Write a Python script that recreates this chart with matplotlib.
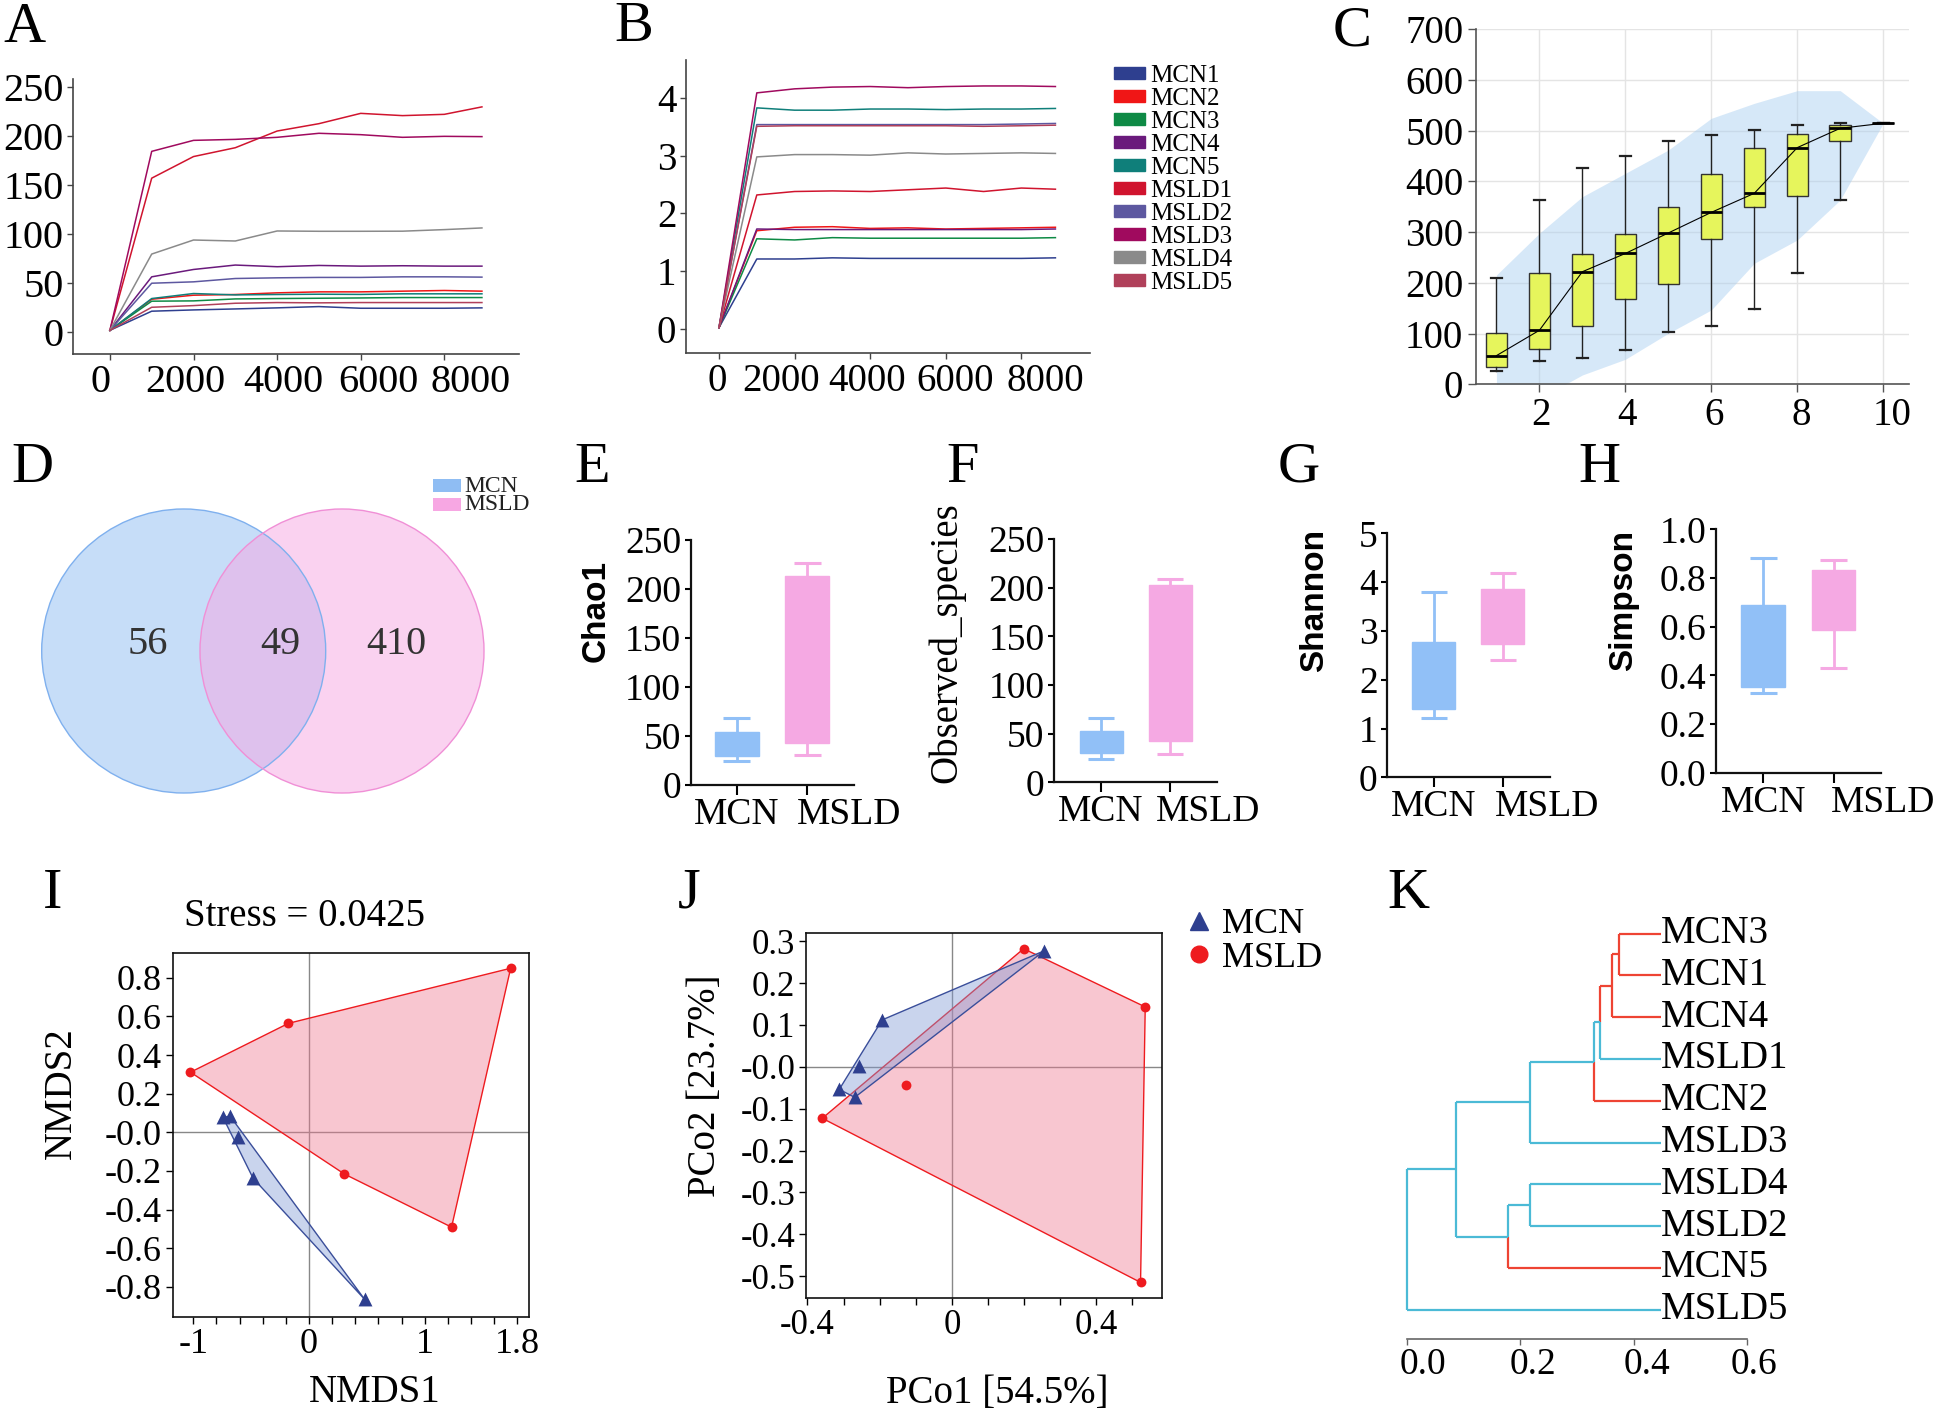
import numpy as np
import matplotlib
matplotlib.use('Agg')
import matplotlib.pyplot as plt
from matplotlib.patches import Circle, Rectangle, Polygon, Patch
from matplotlib.lines import Line2D
import matplotlib.transforms as mtransforms

plt.rcParams['font.family'] = ['Liberation Serif', 'DejaVu Serif']
plt.rcParams['axes.unicode_minus'] = False

W, H = 1944, 1414
fig = plt.figure(figsize=(W / 100, H / 100), dpi=100)


def add_ax(l, t, r, b):
    return fig.add_axes([l / W, 1 - b / H, (r - l) / W, (b - t) / H])


def shift_labels(labels, shifts_px):
    for lab, s in zip(labels, shifts_px):
        off = mtransforms.ScaledTranslation(s / 100, 0, fig.dpi_scale_trans)
        lab.set_transform(lab.get_transform() + off)


# ---------------- data ----------------
samples = ['MCN1', 'MCN2', 'MCN3', 'MCN4', 'MCN5', 'MSLD1', 'MSLD2', 'MSLD3', 'MSLD4', 'MSLD5']
sample_colors = ['#2E3F8F', '#F01616', '#0E8A45', '#6A1A7C', '#0F7F7A',
                 '#D0142E', '#5D58A0', '#A00A5E', '#8A8A8A', '#B0405A']
depth = [0, 1000, 2000, 3000, 4000, 5000, 6000, 7000, 8000, 8900]

# A: rarefaction (observed richness)
rich_MCN1 = [2, 21.5, 22.8, 23.8, 24.9, 26.2, 24.5, 24.5, 24.5, 24.9]
rich_MCN2 = [2, 33.7, 37.8, 38.5, 40.2, 41.2, 41.2, 41.9, 42.6, 41.9]
rich_MCN3 = [2, 31.7, 32.0, 34.0, 34.4, 34.7, 35.0, 35.4, 35.4, 35.4]
rich_MCN4 = [2, 56.5, 64.0, 68.5, 66.8, 68.1, 67.4, 67.8, 67.4, 67.4]
rich_MCN5 = [2, 34.4, 39.5, 38.1, 38.5, 38.8, 38.6, 39.2, 39.2, 39.2]
rich_MSLD1 = [2, 157, 179, 188, 205, 212.5, 223, 220.7, 222, 229.6]
rich_MSLD2 = [2, 50.0, 51.4, 54.8, 55.5, 55.9, 55.9, 56.5, 56.5, 56.2]
rich_MSLD3 = [2, 184.3, 195.5, 196.5, 198.6, 202.7, 201.3, 198.6, 199.6, 199.3]
rich_MSLD4 = [2, 79.7, 94.0, 93.0, 103.2, 102.9, 102.9, 103.0, 104.6, 106.3]
rich_MSLD5 = [2, 25.5, 27.2, 29.6, 30.3, 30.0, 30.3, 30.3, 30.3, 30.3]
richness = [rich_MCN1, rich_MCN2, rich_MCN3, rich_MCN4, rich_MCN5,
            rich_MSLD1, rich_MSLD2, rich_MSLD3, rich_MSLD4, rich_MSLD5]

# B: Shannon rarefaction
shan_MCN1 = [0.02, 1.21, 1.21, 1.23, 1.22, 1.22, 1.22, 1.22, 1.22, 1.23]
shan_MCN2 = [0.02, 1.70, 1.76, 1.77, 1.74, 1.75, 1.73, 1.74, 1.75, 1.76]
shan_MCN3 = [0.02, 1.56, 1.54, 1.58, 1.57, 1.57, 1.57, 1.57, 1.57, 1.58]
shan_MCN4 = [0.02, 1.73, 1.72, 1.72, 1.72, 1.72, 1.72, 1.72, 1.72, 1.73]
shan_MCN5 = [0.02, 3.83, 3.79, 3.79, 3.81, 3.81, 3.80, 3.81, 3.81, 3.82]
shan_MSLD1 = [0.02, 2.32, 2.38, 2.39, 2.38, 2.41, 2.44, 2.38, 2.44, 2.42]
shan_MSLD2 = [0.02, 3.54, 3.54, 3.54, 3.54, 3.54, 3.54, 3.54, 3.55, 3.56]
shan_MSLD3 = [0.02, 4.09, 4.16, 4.19, 4.20, 4.18, 4.20, 4.21, 4.21, 4.20]
shan_MSLD4 = [0.02, 2.98, 3.02, 3.02, 3.01, 3.05, 3.03, 3.04, 3.05, 3.04]
shan_MSLD5 = [0.02, 3.51, 3.52, 3.52, 3.52, 3.52, 3.52, 3.51, 3.52, 3.53]
shannon_curves = [shan_MCN1, shan_MCN2, shan_MCN3, shan_MCN4, shan_MCN5,
                  shan_MSLD1, shan_MSLD2, shan_MSLD3, shan_MSLD4, shan_MSLD5]

# C: species accumulation boxplot
c_x = [1, 2, 3, 4, 5, 6, 7, 8, 9, 10]
c_whislo = [27, 45, 52.6, 68.4, 102.5, 115, 148.5, 219, 362.8, 514.7]
c_q1 = [33.5, 70, 115.7, 167.6, 197, 286, 349, 371.4, 479, 514.7]
c_med = [56.5, 106.5, 222, 258, 298.4, 339, 376.6, 466.7, 504.8, 514.7]
c_q3 = [102, 219, 257, 297, 349, 415.4, 465.4, 493, 511.4, 514.7]
c_whishi = [209, 363, 426.6, 449.6, 480.5, 492.3, 501, 512, 514.7, 514.7]
env_upper = [215.6, 297.8, 370, 416, 462, 524.5, 554, 579, 579, 514.7]
env_lower = [-60, -28, 18.4, 49.3, 100.6, 146.6, 238.6, 284.6, 363.5, 514.7]

# D: Venn
venn_groups = ['MCN', 'MSLD']
venn_counts = [56, 49, 410]

# E-H: alpha diversity boxes  [whislo, q1, q3, whishi]
groups = ['MCN', 'MSLD']
chao1_MCN = [24.5, 30, 54.4, 68]
chao1_MSLD = [30.6, 43.2, 213, 227]
obs_MCN = [24, 29.8, 53, 66.4]
obs_MSLD = [29.5, 42.8, 203, 209]
shannon_MCN = [1.22, 1.40, 2.77, 3.80]
shannon_MSLD = [2.40, 2.73, 3.85, 4.19]
simpson_MCN = [0.329, 0.352, 0.69, 0.884]
simpson_MSLD = [0.432, 0.585, 0.834, 0.875]

# I: NMDS
nmds_MCN_x = [-0.743, -0.682, -0.615, -0.483, 0.480]
nmds_MCN_y = [0.077, 0.084, -0.026, -0.238, -0.864]
nmds_MSLD_x = [-1.024, -0.177, 1.743, 1.232, 0.306]
nmds_MSLD_y = [0.311, 0.564, 0.849, -0.491, -0.216]

# J: PCoA
pcoa_MCN_x = [0.256, -0.193, -0.257, -0.312, -0.269]
pcoa_MCN_y = [0.277, 0.112, 0.002, -0.054, -0.073]
pcoa_MSLD_x = [0.199, 0.536, 0.523, -0.359, -0.126]
pcoa_MSLD_y = [0.282, 0.143, -0.515, -0.123, -0.043]

# K: dendrogram
leaf_order = ['MCN3', 'MCN1', 'MCN4', 'MSLD1', 'MCN2', 'MSLD3', 'MSLD4', 'MSLD2', 'MCN5', 'MSLD5']
leaf_x = 0.448
# (child a, child b, position)
tree_nodes = [
    ('MCN3', 'MCN1', 0.375),
    ('n0', 'MCN4', 0.362),
    ('n1', 'MSLD1', 0.341),
    ('n2', 'MCN2', 0.330),
    ('n3', 'MSLD3', 0.217),
    ('MSLD4', 'MSLD2', 0.217),
    ('n5', 'MCN5', 0.178),
    ('n4', 'n6', 0.086),
    ('n7', 'MSLD5', 0.0),
]

BLUE_BOX = '#91C0F7'
PINK_BOX = '#F5A9E3'
RED = '#EE1B1F'
NAVY = '#2E3F8F'


def style_open(ax, lw=1.2, color='#444444'):
    for s in ['top', 'right']:
        ax.spines[s].set_visible(False)
    for s in ['left', 'bottom']:
        ax.spines[s].set_linewidth(lw)
        ax.spines[s].set_color(color)
    ax.tick_params(direction='out', length=4, width=1, color=color)


# ---------------- A ----------------
axA = add_ax(73.2, 79, 518.8, 354.3)
for ys, col in zip(richness, sample_colors):
    axA.plot(depth, ys, color=col, lw=1.1)
axA.set_xlim(-878, 9782)
axA.set_ylim(-22.4, 258)
axA.set_xticks([0, 2000, 4000, 6000, 8000])
axA.set_yticks([0, 50, 100, 150, 200, 250])
style_open(axA)
axA.tick_params(labelsize=29, pad=3)
shift_labels(axA.get_xticklabels(), [-9, -8, 6, 18, 26])

# ---------------- B ----------------
axB = add_ax(686, 60, 1090, 353)
for ys, col in zip(shannon_curves, sample_colors):
    axB.plot(depth, ys, color=col, lw=1.1)
axB.set_xlim(-873, 9815)
axB.set_ylim(-0.42, 4.66)
axB.set_xticks([0, 2000, 4000, 6000, 8000])
axB.set_yticks([0, 1, 2, 3, 4])
style_open(axB)
axB.tick_params(labelsize=28, pad=3)
shift_labels(axB.get_xticklabels(), [-2, -14, -3, 9, 24])
handles = [Patch(facecolor=c, edgecolor=c) for c in sample_colors]
fig.legend(handles, samples, loc='upper left', bbox_to_anchor=(1114 / W, 1 - 65 / H),
           frameon=False, fontsize=18, handlelength=1.25, handleheight=0.4,
           handletextpad=0.2, labelspacing=0.04, borderpad=0, borderaxespad=0)

# ---------------- C ----------------
axC = add_ax(1475.8, 29.3, 1909, 384.3)
axC.set_xlim(0.52, 10.6)
axC.set_ylim(0, 700)
axC.set_xticks([2, 4, 6, 8, 10])
axC.set_yticks(range(0, 701, 100))
axC.grid(True, color='#E4E4E4', lw=1.0, zorder=0)
axC.set_axisbelow(True)
axC.fill_between(c_x, env_lower, env_upper, color='#A6CDF0', alpha=0.45, lw=0, zorder=1)
stats = [dict(whislo=a, q1=b, med=c, q3=d, whishi=e)
         for a, b, c, d, e in zip(c_whislo, c_q1, c_med, c_q3, c_whishi)]
axC.bxp(stats, positions=c_x, widths=0.5, capwidths=0.25, showfliers=False,
        patch_artist=True, manage_ticks=False,
        boxprops=dict(facecolor='#E6F55C', edgecolor='#333333', lw=1.0),
        medianprops=dict(color='black', lw=2.0),
        whiskerprops=dict(color='#222222', lw=1.0),
        capprops=dict(color='#222222', lw=1.6), zorder=3)
axC.plot(c_x, c_med, color='black', lw=0.8, zorder=4)
style_open(axC, color='#555555')
axC.tick_params(labelsize=28, length=6, pad=3)
shift_labels(axC.get_xticklabels(), [2, 2, 3, 4, 9])

# ---------------- D (Venn) ----------------
axD = add_ax(0, 470, 540, 820)
axD.set_xlim(0, 540)
axD.set_ylim(820, 470)
axD.axis('off')
venn_fc = ['#8FBDF3', '#F7A7E3']
venn_ec = ['#7FB0EE', '#F08FD6']
centers = [(183.7, 651), (342, 651)]
for (cx, cy), fc in zip(centers, venn_fc):
    axD.add_patch(Circle((cx, cy), 142, facecolor=fc, alpha=0.5, edgecolor='none'))
for (cx, cy), ec in zip(centers, venn_ec):
    axD.add_patch(Circle((cx, cy), 142, facecolor='none', edgecolor=ec, lw=1.0))
for xpos, n in zip([148.2, 279.9, 396.8], venn_counts):
    axD.text(xpos, 645, str(n), fontsize=29, ha='center', va='center', color='#333333')
for i, (g, fc) in enumerate(zip(venn_groups, venn_fc)):
    y0 = 479 + i * 19
    axD.add_patch(Rectangle((433, y0), 27.5, 12.7, facecolor=fc, edgecolor='none', clip_on=False))
    axD.text(464, y0 + 7, g, fontsize=17, ha='left', va='center', color='#222222')


# ---------------- E-H ----------------
def alpha_box(box, l, t, r, b, xlim, ylim, yticks, ylabel, lab_px, ytick_fmt=None, shift=40,
              ylab_font=None):
    ax = add_ax(l, t, r, b)
    cols = [BLUE_BOX, PINK_BOX]
    for xpos, st, col in zip([1, 2], box, cols):
        whislo, q1, q3, whishi = st
        ax.bar(xpos, q3 - q1, bottom=q1, width=0.625, color=col, edgecolor=col, lw=1, zorder=2)
        ax.vlines(xpos, q3, whishi, color=col, lw=2, zorder=1)
        ax.vlines(xpos, whislo, q1, color=col, lw=2, zorder=1)
        ax.hlines([whislo, whishi], xpos - 0.19, xpos + 0.19, color=col, lw=2.2, zorder=1)
    ax.set_xlim(*xlim)
    ax.set_ylim(*ylim)
    ax.set_yticks(yticks)
    if ytick_fmt:
        ax.set_yticklabels([ytick_fmt % v for v in yticks])
    ax.set_xticks([1, 2])
    ax.set_xticklabels(groups)
    for s in ['top', 'right']:
        ax.spines[s].set_visible(False)
    for s in ['left', 'bottom']:
        ax.spines[s].set_linewidth(1.6)
        ax.spines[s].set_color('#111111')
    ax.tick_params(axis='y', direction='out', length=4, width=1.5, labelsize=27, pad=3)
    ax.tick_params(axis='x', direction='out', length=7, width=1.5, labelsize=27, pad=2)
    shift_labels(ax.get_xticklabels(), [0, shift])
    if ylab_font is None:
        ax.set_ylabel(ylabel, fontsize=24, family='Liberation Sans', fontweight='bold')
    else:
        ax.set_ylabel(ylabel, fontsize=ylab_font)
    ax.yaxis.label.set_va('center')
    ax.yaxis.set_label_coords((lab_px[0] - l) / (r - l), (b - lab_px[1]) / (b - t))
    return ax


alpha_box((chao1_MCN, chao1_MSLD), 690.8, 540, 854.3, 785, (0.348, 2.67), (0, 250),
          [0, 50, 100, 150, 200, 250], 'Chao1', (596, 611), shift=42)
alpha_box((obs_MCN, obs_MSLD), 1054.1, 539, 1217.3, 782.3, (0.32, 2.68), (0, 250),
          [0, 50, 100, 150, 200, 250], 'Observed_species', (947, 643), shift=38, ylab_font=28)
alpha_box((shannon_MCN, shannon_MSLD), 1387.4, 533.3, 1549.9, 777.3, (0.33, 2.68), (0, 5),
          [0, 1, 2, 3, 4, 5], 'Shannon', (1315, 600), shift=44)
alpha_box((simpson_MCN, simpson_MSLD), 1716.2, 529.3, 1880.6, 772.7, (0.33, 2.67), (0, 1.0),
          [0, 0.2, 0.4, 0.6, 0.8, 1.0], 'Simpson', (1624, 600), ytick_fmt='%.1f', shift=50)


# ---------------- hull helper ----------------
def convex_hull(xs, ys):
    pts = sorted(set(zip(xs, ys)))

    def cross(o, a, b):
        return (a[0] - o[0]) * (b[1] - o[1]) - (a[1] - o[1]) * (b[0] - o[0])
    lower, upper = [], []
    for p in pts:
        while len(lower) >= 2 and cross(lower[-2], lower[-1], p) <= 0:
            lower.pop()
        lower.append(p)
    for p in reversed(pts):
        while len(upper) >= 2 and cross(upper[-2], upper[-1], p) <= 0:
            upper.pop()
        upper.append(p)
    return lower[:-1] + upper[:-1]


def ordination(ax, mx, my, sx, sy):
    ax.axhline(0, color='#888888', lw=1.0, zorder=0)
    ax.axvline(0, color='#888888', lw=1.0, zorder=0)
    ax.add_patch(Polygon(convex_hull(sx, sy), closed=True, facecolor='#F07890', alpha=0.42,
                         edgecolor='none', zorder=1))
    ax.add_patch(Polygon(convex_hull(sx, sy), closed=True, facecolor='none',
                         edgecolor='#EE1B1F', lw=1.0, zorder=2))
    ax.add_patch(Polygon(convex_hull(mx, my), closed=True, facecolor='#7F9AD5', alpha=0.42,
                         edgecolor='none', zorder=3))
    ax.add_patch(Polygon(convex_hull(mx, my), closed=True, facecolor='none',
                         edgecolor='#3A4E9A', lw=1.0, zorder=4))
    ax.scatter(sx, sy, s=50, marker='o', color=RED, zorder=5, linewidths=0)
    ax.scatter(mx, my, s=100, marker='^', color=NAVY, zorder=6, linewidths=0)
    for s in ax.spines.values():
        s.set_linewidth(1.2)
        s.set_color('#111111')
    ax.tick_params(direction='out', length=5, width=1.0)


def set_label_px(ax, which, text, px, box, fs=28):
    l, t, r, b = box
    if which == 'x':
        ax.set_xlabel(text, fontsize=fs)
        lab, axis = ax.xaxis.label, ax.xaxis
    else:
        ax.set_ylabel(text, fontsize=fs)
        lab, axis = ax.yaxis.label, ax.yaxis
    lab.set_va('center')
    axis.set_label_coords((px[0] - l) / (r - l), (b - px[1]) / (b - t))


# ---------------- I ----------------
boxI = (172.9, 952.6, 528.6, 1317.2)
axI = add_ax(*boxI)
ordination(axI, nmds_MCN_x, nmds_MCN_y, nmds_MSLD_x, nmds_MSLD_y)
axI.set_xlim(-1.176, 1.898)
axI.set_ylim(-0.957, 0.93)
xt = np.round(np.arange(-1.0, 1.81, 0.2), 1)
axI.set_xticks(xt)
axI.set_xticklabels(['-1' if v == -1 else '0' if v == 0 else '1' if v == 1 else '1.8' if v == 1.8 else ''
                     for v in xt])
yt = np.round(np.arange(-0.8, 0.81, 0.2), 1)
axI.set_yticks(yt)
axI.set_yticklabels(['%.1f' % v for v in yt])
axI.tick_params(labelsize=26, pad=3)
set_label_px(axI, 'x', 'NMDS1', (375, 1393), boxI)
set_label_px(axI, 'y', 'NMDS2', (61, 1093), boxI)
fig.text(304.5 / W, 1 - 916 / H, 'Stress = 0.0425', fontsize=28, ha='center', va='center')

# ---------------- J ----------------
boxJ = (806.4, 932.8, 1162.2, 1297.9)
axJ = add_ax(*boxJ)
ordination(axJ, pcoa_MCN_x, pcoa_MCN_y, pcoa_MSLD_x, pcoa_MSLD_y)
axJ.set_xlim(-0.403, 0.583)
axJ.set_ylim(-0.552, 0.320)
xt = np.round(np.arange(-0.4, 0.51, 0.1), 1)
axJ.set_xticks(xt)
axJ.set_xticklabels(['-0.4' if v == -0.4 else '0' if v == 0 else '0.4' if v == 0.4 else '' for v in xt])
yt = np.round(np.arange(-0.5, 0.31, 0.1), 1)
axJ.set_yticks(yt)
axJ.set_yticklabels(['%.1f' % v for v in yt])
axJ.tick_params(labelsize=25, pad=3)
set_label_px(axJ, 'x', 'PCo1 [54.5%]', (997, 1393), boxJ)
set_label_px(axJ, 'y', 'PCo2 [23.7%]', (705, 1086), boxJ)
leg_handles = [Line2D([], [], marker='^', color=NAVY, ls='none', ms=13),
               Line2D([], [], marker='o', color=RED, ls='none', ms=12)]
fig.legend(leg_handles, groups, loc='upper left', bbox_to_anchor=(1188 / W, 1 - 908 / H),
           frameon=False, fontsize=26, handlelength=0.6, handletextpad=0.35,
           labelspacing=0.0, borderpad=0, borderaxespad=0)

# ---------------- K ----------------
kl, kt, kr, kb = 1380, 915, 1800, 1339.1
axK = add_ax(kl, kt, kr, kb)
x0, pxu = 1407.3, 565.5
y0, pyu = 933.5, 41.8
axK.set_xlim(-(x0 - kl) / pxu, (kr - x0) / pxu)
axK.set_ylim((kb - y0) / pyu, -(y0 - kt) / pyu)
pos = {name: (leaf_x, i) for i, name in enumerate(leaf_order)}
members = {name: [name] for name in leaf_order}
RED_K, CYAN_K = '#EE4433', '#4BBAD6'
for k, (a, b, xn) in enumerate(tree_nodes):
    ya, yb = pos[a][1], pos[b][1]
    yn = (ya + yb) / 2
    for child in (a, b):
        cx, cy = pos[child]
        col = RED_K if all(m.startswith('MCN') for m in members[child]) else CYAN_K
        axK.plot([xn, xn], [yn, cy], color=col, lw=1.6, solid_capstyle='butt', clip_on=False)
        axK.plot([xn, cx], [cy, cy], color=col, lw=1.6, solid_capstyle='butt', clip_on=False)
    name = 'n%d' % k
    pos[name] = (xn, yn)
    members[name] = members[a] + members[b]
for i, name in enumerate(leaf_order):
    axK.text(leaf_x, i, name, fontsize=28, ha='left', va='center', clip_on=False)
for s in ['top', 'right', 'left']:
    axK.spines[s].set_visible(False)
axK.spines['bottom'].set_bounds(0, 0.6)
axK.spines['bottom'].set_color('#666666')
axK.spines['bottom'].set_linewidth(1.2)
axK.set_yticks([])
axK.set_xticks([0, 0.2, 0.4, 0.6])
axK.set_xticklabels(['0.0', '0.2', '0.4', '0.6'])
axK.tick_params(axis='x', direction='out', length=4, width=1, color='#666666', labelsize=27, pad=2)
shift_labels(axK.get_xticklabels(), [16, 13, 13, 7])

# ---------------- panel letters ----------------
letters = {'A': (24, 28), 'B': (634, 27), 'C': (1352, 31), 'D': (32, 468), 'E': (592, 468),
           'F': (963, 468), 'G': (1299, 468), 'H': (1599, 468), 'I': (53, 894),
           'J': (689, 894), 'K': (1408, 894)}
for L, (x, y) in letters.items():
    fig.text(x / W, 1 - y / H, L, fontsize=42, ha='center', va='center')

fig.savefig('out.png', dpi=100)
